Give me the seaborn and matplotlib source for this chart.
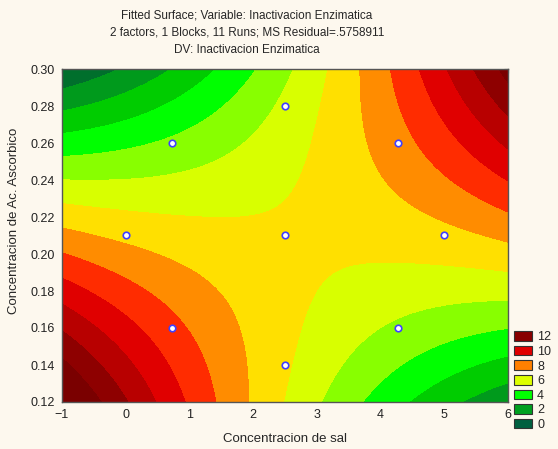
import numpy as np
import matplotlib
matplotlib.use("Agg")
import matplotlib.pyplot as plt
import seaborn as sns
from matplotlib.patches import Patch

# design points (central composite design)
sal = [0.0, 0.73, 0.73, 2.5, 2.5, 2.5, 4.27, 4.27, 5.0]
ascorbico = [0.21, 0.16, 0.26, 0.14, 0.21, 0.28, 0.16, 0.26, 0.21]

# surface values (contour crossings along edges/rows + a few inner points)
read_sal = ([-1.0] * 12
            + [-0.135, 0.70, 1.37, 2.00, 2.58, 3.14, 3.69, 4.19, 4.66, 5.13, 5.57]
            + [0.0, 0.46, 0.93, 1.42, 1.96, 2.51, 3.06, 3.69, 4.39, 5.26]
            + [6.0] * 10
            + [0.68, 1.09, 1.69, 2.66, 3.84, 5.57]
            + [0.73, 2.32, 3.03, 3.84, 4.63, 5.05, 5.46, 5.89]
            + [2.9, 0.0, 5.0, 2.5, 2.5])
read_asc = ([0.2886, 0.2768, 0.266, 0.2524, 0.24, 0.2276, 0.214, 0.2005, 0.186, 0.1724, 0.157, 0.1427]
            + [0.30] * 11
            + [0.12] * 10
            + [0.125, 0.143, 0.162, 0.178, 0.195, 0.209, 0.225, 0.241, 0.26, 0.2795]
            + [0.16] * 6
            + [0.26] * 8
            + [0.215, 0.21, 0.21, 0.28, 0.14])
read_val = ([1, 2, 3, 4, 5, 6, 7, 8, 9, 10, 11, 12]
            + [1, 2, 3, 4, 5, 6, 7, 8, 9, 10, 11]
            + [11, 10, 9, 8, 7, 6, 5, 4, 3, 2]
            + [2, 3, 4, 5, 6, 7, 8, 9, 10, 11]
            + [9, 8, 7, 6, 5, 4]
            + [4, 5, 6, 7, 8, 9, 10, 11]
            + [6.0, 6.9, 6.9, 5.5, 6.0])

levels = [-50, 0, 1, 2, 3, 4, 5, 6, 7, 8, 9, 10, 11, 12, 50]
band_colors = ['#006040', '#006f2c', '#009a1c', '#00cc00', '#00ff00', '#88ff00',
               '#d8ff00', '#ffe000', '#ff8c00', '#ff2c00', '#e00000', '#b80000',
               '#8e0000', '#7a0000']
legend_labels = ['12', '10', '8', '6', '4', '2', '0']
legend_colors = ['#880000', '#e00000', '#ff8000', '#ddff00', '#00ff00', '#00a020', '#006040']

title = ("Fitted Surface; Variable: Inactivacion Enzimatica\n"
         "2 factors, 1 Blocks, 11 Runs; MS Residual=.5758911\n"
         "DV: Inactivacion Enzimatica")

sns.set_style("white")
plt.rcParams['font.family'] = ['Liberation Sans', 'DejaVu Sans']


def terms(u, w):
    return np.stack([np.ones_like(u), u, u**2, w, u*w, u**2*w, w**2, u*w**2, u**2*w**2], axis=-1)


# smooth polynomial surface through the readings
ru = np.array(read_sal) - 2.5
rw = (np.array(read_asc) - 0.21) * 100
coef, *_ = np.linalg.lstsq(terms(ru, rw), np.array(read_val, dtype=float), rcond=None)

gx, gy = np.meshgrid(np.linspace(-1, 6, 300), np.linspace(0.12, 0.30, 300))
gz = terms(gx - 2.5, (gy - 0.21) * 100) @ coef

bg = '#fdf8ee'
fig = plt.figure(figsize=(5.58, 4.49), dpi=100, facecolor=bg)
ax = fig.add_axes([62/558, 1 - 402/449, 446/558, 333/449])
ax.contourf(gx, gy, gz, levels=levels, colors=band_colors)
sns.scatterplot(x=sal, y=ascorbico, ax=ax, s=22, color='white',
                edgecolor='#4040ff', linewidth=1.2, zorder=5)

ax.set_xlim(-1, 6)
ax.set_ylim(0.12, 0.30)
ax.set_xticks(range(-1, 7))
yt = np.arange(0.12, 0.301, 0.02)
ax.set_yticks(yt)
ax.set_yticklabels([f"{v:.2f}" for v in yt])
ax.tick_params(direction='in', length=3, labelsize=9, top=True, right=True,
               labeltop=False, labelright=False, colors='#222222', pad=5)
for s in ax.spines.values():
    s.set_color('#555555')
    s.set_linewidth(1)
ax.set_xlabel('Concentracion de sal', fontsize=9.5, labelpad=9)
ax.set_ylabel('Concentracion de Ac. Ascorbico', fontsize=9.5)
ax.yaxis.set_label_coords(-0.094, 0.544)
fig.text(247/558, 1 - 9/449, title, ha='center', va='top', fontsize=8.5, linespacing=1.6)

handles = [Patch(facecolor=c, edgecolor='#333333', linewidth=0.8) for c in legend_colors]
fig.legend(handles, legend_labels, loc='lower left', bbox_to_anchor=(514/558, 18/449),
           frameon=False, fontsize=9, handlelength=1.45, handleheight=0.8,
           handletextpad=0.4, labelspacing=0.2, borderaxespad=0, borderpad=0)

fig.savefig('out.png', dpi=100, facecolor=bg)
